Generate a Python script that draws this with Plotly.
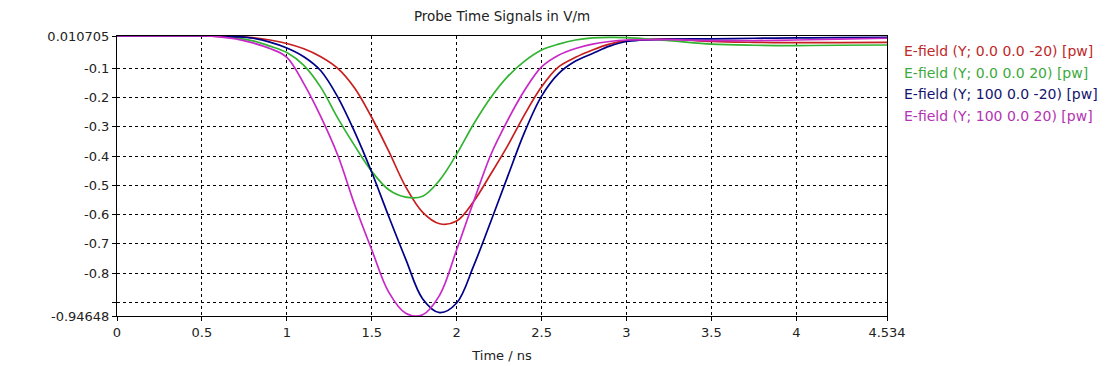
import plotly.graph_objects as go

time_ns = [0, 0.3, 0.5, 0.6, 0.7, 0.8, 0.9, 1.0, 1.1, 1.2, 1.3, 1.4, 1.5, 1.6, 1.7, 1.8, 1.9,
           2.0, 2.1, 2.2, 2.3, 2.4, 2.5, 2.6, 2.7, 2.8, 2.9, 3.0, 3.25, 3.5, 3.75, 4.0, 4.25, 4.534]

red_vals = [0.0107, 0.0107, 0.0107, 0.0102, 0.009, 0.005, -0.003, -0.015, -0.033, -0.06, -0.10,
            -0.168, -0.268, -0.383, -0.505, -0.592, -0.631, -0.622, -0.555, -0.462, -0.365,
            -0.258, -0.163, -0.095, -0.062, -0.037, -0.017, -0.005, 0.0, -0.008, -0.011,
            -0.012, -0.012, -0.011]
green_vals = [0.0107, 0.0107, 0.0107, 0.009, 0.004, -0.006, -0.024, -0.046, -0.09, -0.165, -0.27,
              -0.365, -0.452, -0.515, -0.54, -0.537, -0.482, -0.393, -0.29, -0.2, -0.128, -0.075,
              -0.037, -0.017, -0.003, 0.004, 0.006, 0.005, -0.005, -0.017, -0.021, -0.022,
              -0.021, -0.02]
blue_vals = [0.0107, 0.0107, 0.0107, 0.0103, 0.008, 0.003, -0.01, -0.03, -0.06, -0.108, -0.198,
             -0.318, -0.455, -0.606, -0.752, -0.888, -0.935, -0.902, -0.775, -0.625, -0.47,
             -0.318, -0.195, -0.118, -0.075, -0.049, -0.024, -0.008, 0.0, 0.001, 0.003, 0.004,
             0.005, 0.006]
magenta_vals = [0.0107, 0.0107, 0.0107, 0.008, 0.001, -0.013, -0.032, -0.062, -0.152, -0.265,
                -0.397, -0.567, -0.72, -0.865, -0.937, -0.942, -0.875, -0.72, -0.555, -0.397,
                -0.278, -0.175, -0.095, -0.055, -0.032, -0.017, -0.008, -0.003, -0.002, -0.005,
                -0.005, -0.003, 0.0, 0.003]

series_names = ["E-field (Y; 0.0 0.0 -20) [pw]", "E-field (Y; 0.0 0.0 20) [pw]",
                "E-field (Y; 100 0.0 -20) [pw]", "E-field (Y; 100 0.0 20) [pw]"]
series_vals = [red_vals, green_vals, blue_vals, magenta_vals]
line_colors = ["#c81e1e", "#32b432", "#000088", "#c828c8"]
text_colors = ["#be2828", "#3caa3c", "#14146e", "#b432b4"]

y_tickvals = [0.010705, -0.1, -0.2, -0.3, -0.4, -0.5, -0.6, -0.7, -0.8, -0.9, -0.94648]
y_ticktext = ["0.010705", "-0.1", "-0.2", "-0.3", "-0.4", "-0.5", "-0.6", "-0.7", "-0.8", "", "-0.94648"]
x_tickvals = [0, 0.5, 1, 1.5, 2, 2.5, 3, 3.5, 4, 4.534]
x_ticktext = ["0", "0.5", "1", "1.5", "2", "2.5", "3", "3.5", "4", "4.534"]

FONT = "DejaVu Sans"

fig = go.Figure()
for name, vals, col in zip(series_names, series_vals, line_colors):
    fig.add_trace(go.Scatter(x=time_ns, y=vals, mode="lines", name=name,
                             line=dict(color=col, width=1.7, shape="spline", smoothing=1.0),
                             showlegend=False))

for i, (name, col) in enumerate(zip(series_names, text_colors)):
    fig.add_annotation(text=name, xref="paper", yref="paper", x=1.0, xshift=15, xanchor="left",
                       y=1.0, yshift=-15 - 21.6 * i, yanchor="middle", showarrow=False,
                       font=dict(color=col, size=14, family=FONT))

axis_common = dict(showline=True, linecolor="black", linewidth=1, mirror=True,
                   showgrid=True, gridcolor="black", gridwidth=1, griddash="3px,3px",
                   zeroline=False, ticks="outside", ticklen=4, tickcolor="black",
                   tickfont=dict(size=13, color="#222", family=FONT))

fig.update_xaxes(range=[0, 4.534], tickmode="array", tickvals=x_tickvals, ticktext=x_ticktext,
                 title=dict(text="Time / ns", font=dict(size=13, color="#222", family=FONT),
                            standoff=12), **axis_common)
fig.update_yaxes(range=[-0.94648, 0.010705], tickmode="array", tickvals=y_tickvals,
                 ticktext=y_ticktext, **axis_common)

fig.update_layout(
    width=1117, height=366,
    margin=dict(l=109, r=238, t=28, b=58),
    paper_bgcolor="white", plot_bgcolor="white",
    title=dict(text="Probe Time Signals in V/m", x=0.5, xref="paper", y=0.978, yanchor="middle",
               font=dict(size=13.5, color="#222", family=FONT)),
    font=dict(family=FONT, size=13, color="#222"),
)

fig.write_html("out.html")
